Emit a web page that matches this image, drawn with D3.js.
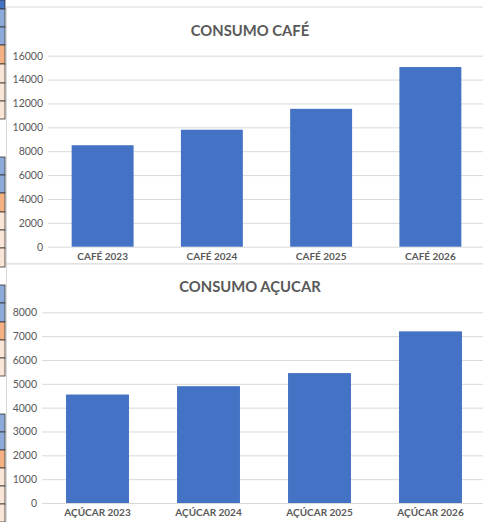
<!DOCTYPE html>
<html>
<head>
<meta charset="utf-8">
<script src="https://cdn.jsdelivr.net/npm/d3@7"></script>
<style>
  body { margin: 0; background: #fff; }
  svg { display: block; }
</style>
</head>
<body>
<div id="chart"></div>
<script>
// data
var cafeCategories = ["CAFÉ 2023", "CAFÉ 2024", "CAFÉ 2025", "CAFÉ 2026"];
var cafeValues = [8500, 9800, 11550, 15050];
var cafeTicks = [0, 2000, 4000, 6000, 8000, 10000, 12000, 14000, 16000];

var acucarCategories = ["AÇÚCAR 2023", "AÇÚCAR 2024", "AÇÚCAR 2025", "AÇÚCAR 2026"];
var acucarValues = [4550, 4900, 5450, 7200];
var acucarTicks = [0, 1000, 2000, 3000, 4000, 5000, 6000, 7000, 8000];

var W = 483, H = 522;
var svg = d3.select("#chart").append("svg")
    .attr("width", W)
    .attr("height", H);

// spreadsheet cells peeking out on the left
var cellColors = { d: "#4472c4", b: "#8eaadb", o: "#f4b183", p: "#fbe5d6" };
var cells = [
  [0, 9, "d"], [9, 27, "b"], [27, 45, "b"], [45, 64, "o"], [64, 83, "p"], [83, 101, "p"], [101, 119, "p"],
  [157, 175, "b"], [175, 193, "b"], [193, 212, "o"], [212, 230, "p"], [230, 248, "p"], [248, 267, "p"],
  [285, 303, "b"], [303, 322, "b"], [322, 340, "o"], [340, 358, "p"], [358, 376, "p"],
  [414, 432, "b"], [432, 450, "b"], [450, 468, "o"], [468, 486, "p"], [486, 504, "p"], [504, 522, "p"]
];
svg.selectAll("rect.cell")
  .data(cells)
  .enter().append("rect")
    .attr("class", "cell")
    .attr("x", -1)
    .attr("y", function(d) { return d[0]; })
    .attr("width", 6)
    .attr("height", function(d) { return d[1] - d[0]; })
    .attr("fill", function(d) { return cellColors[d[2]]; })
    .attr("stroke", "#333")
    .attr("stroke-width", 0.8);

function drawChart(opt) {
  var g = svg.append("g");

  // chart frame
  g.append("rect")
    .attr("x", 6.5).attr("y", opt.top)
    .attr("width", W + 10).attr("height", opt.bottom - opt.top)
    .attr("fill", "#fff")
    .attr("stroke", "#d9d9d9")
    .attr("stroke-width", 1);

  g.append("text")
    .attr("x", 250).attr("y", opt.titleY)
    .attr("text-anchor", "middle")
    .attr("font-family", "Lato, sans-serif")
    .attr("font-weight", "bold")
    .attr("font-size", 14.8)
    .attr("fill", "#595959")
    .text(opt.title);

  var x = d3.scaleBand()
      .domain(opt.categories)
      .range(opt.xRange)
      .paddingInner(0.433)
      .paddingOuter(0.2165);

  var y = d3.scaleLinear()
      .domain([0, opt.ticks[opt.ticks.length - 1]])
      .range(opt.yRange);

  // gridlines
  var yAxis = d3.axisLeft(y)
      .tickValues(opt.ticks)
      .tickSize(-(W - opt.xRange[0]) - 10)
      .tickPadding(5)
      .tickFormat(d3.format("d"));

  var ga = g.append("g")
      .attr("transform", "translate(" + opt.xRange[0] + ",0)")
      .call(yAxis);
  ga.select(".domain").remove();
  ga.selectAll(".tick line").attr("stroke", "#d9d9d9").attr("stroke-width", 1);
  ga.selectAll(".tick text")
      .attr("font-family", "Lato, sans-serif")
      .attr("font-size", 10.5)
      .attr("fill", "#595959");

  g.selectAll("rect.bar")
    .data(opt.values)
    .enter().append("rect")
      .attr("class", "bar")
      .attr("x", function(d, i) { return x(opt.categories[i]); })
      .attr("width", x.bandwidth())
      .attr("y", function(d) { return y(d); })
      .attr("height", function(d) { return y(0) - y(d); })
      .attr("fill", "#4472c4");

  var xAxis = d3.axisBottom(x).tickSize(0).tickPadding(6);
  var gx = g.append("g")
      .attr("transform", "translate(0," + y(0) + ")")
      .call(xAxis);
  gx.select(".domain").remove();
  gx.selectAll(".tick text")
      .attr("font-family", "Lato, sans-serif")
      .attr("font-weight", "bold")
      .attr("font-size", 10)
      .attr("fill", "#595959");
}

drawChart({
  top: 7, bottom: 264, titleY: 36,
  title: "CONSUMO CAFÉ",
  categories: cafeCategories, values: cafeValues, ticks: cafeTicks,
  xRange: [48, 485], yRange: [246.7, 55.7]
});

drawChart({
  top: 264, bottom: 530, titleY: 292,
  title: "CONSUMO AÇUCAR",
  categories: acucarCategories, values: acucarValues, ticks: acucarTicks,
  xRange: [42, 486], yRange: [503, 312.3]
});
</script>
</body>
</html>
